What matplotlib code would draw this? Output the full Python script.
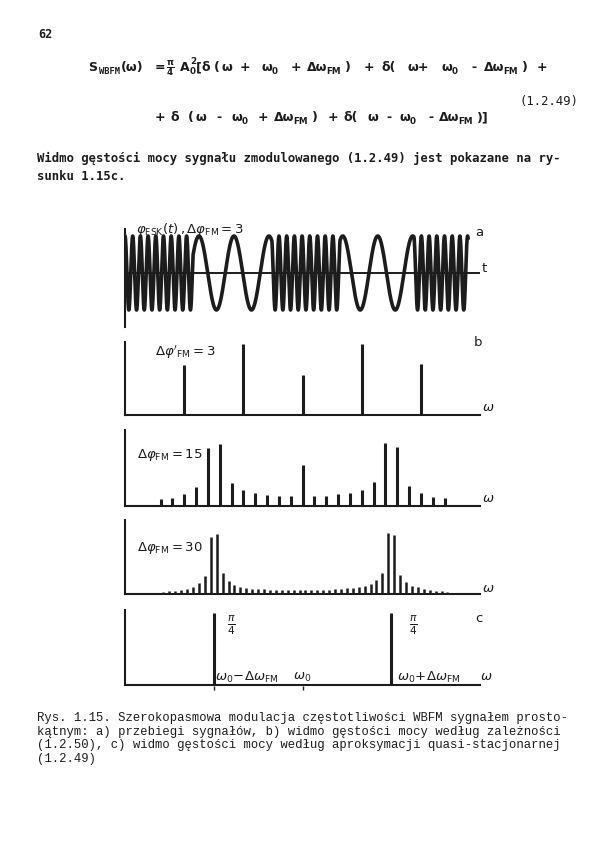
"""Page 62, Rys. 1.15: WBFM with a rectangular modulating signal."""

import matplotlib as mpl
import matplotlib.pyplot as plt
import numpy as np

PAGE_W, PAGE_H = 600, 868
DPI = 100
INK = "#1c1c1c"

# (a) FSK waveform: segment edges along t and the period inside each segment
FSK_EDGES = [0, 68, 147, 215, 289, 343]
FSK_PERIODS = [7.7, 35.0, 7.7, 35.0, 7.7]

# spectral lines: harmonic number n of the modulating frequency, x = n / (dphi/2)
B_DPHI = 3
B_HARM = [-2, -1, 0, 1, 2]
B_AMP = [50, 71, 40, 71, 51]

C_DPHI = 15
C_HARM = list(range(-12, 13))
C_AMP = [6.7, 8.3, 11.7, 19, 58.3, 62.3, 23.3, 15.7, 13, 11, 10, 9.7, 41,
         9.7, 10.3, 11.7, 13, 16.3, 24, 63.3, 59.3, 20, 12.7, 9, 7.7]

D_DPHI = 30
D_HARM = list(np.arange(-24.5, 25.0, 1.0))
D_AMP = [1.3, 2, 2.7, 3.3, 4, 5, 7, 10.7, 18.3, 57.3, 59.7, 20.7, 12.7, 9, 7,
         6, 5.3, 5, 4.7, 4.3, 4, 4, 4, 4, 4, 3.7, 3.7, 3.7, 4, 4, 4.7, 5, 5.7,
         6.3, 7.3, 8.3, 10.3, 13.7, 21.3, 60.7, 58.7, 19.3, 11.7, 8, 6.7, 5.3,
         4, 3.3, 3, 2.3]

# (c) quasi-stationary approximation: two lines at w0 -/+ dw_FM
E_POS = [-1, 1]
E_AMP = [72, 72]

# equation (1.2.49), piece by piece as typed on the page: (x, text, level)
# level 0 = main line, -1 = subscript, 1 = superscript, -2 = narrow subscript
EQ_LINE1 = [
    (88, "S", 0), (99, "WBFM", -2), (121, "(ω)", 0), (155, "=", 0), (166, r"$\frac{\pi}{4}$", 0),
    (180, "A", 0), (190, "0", -1), (190, "2", 1), (196, "[", 0), (201, "δ", 0), (214, "(", 0),
    (222, "ω", 0), (240, "+", 0), (261, "ω", 0), (272, "0", -1), (291, "+", 0),
    (307, "Δω", 0), (326, "FM", -1), (345, ")", 0), (364, "+", 0), (382, "δ(", 0),
    (407, "ω+", 0), (441, "ω", 0), (452, "0", -1), (471, "-", 0), (484, "Δω", 0),
    (503, "FM", -1), (522, ")", 0), (537, "+", 0),
]
EQ_LINE2 = [
    (155, "+", 0), (171, "δ", 0), (188, "(", 0), (196, "ω", 0), (216, "-", 0), (231, "ω", 0),
    (242, "0", -1), (258, "+", 0), (274, "Δω", 0), (293, "FM", -1), (312, ")", 0), (328, "+", 0),
    (344, "δ(", 0), (367, "ω", 0), (386, "-", 0), (399, "ω", 0), (410, "0", -1), (428, "-", 0),
    (439, "Δω", 0), (458, "FM", -1), (477, ")]", 0),
]

CAPTION = [
    "Rys. 1.15. Szerokopasmowa modulacja częstotliwości WBFM sygnałem prosto-",
    "kątnym: a) przebiegi sygnałów, b) widmo gęstości mocy według zależności",
    "(1.2.50), c) widmo gęstości mocy według aproksymacji quasi-stacjonarnej",
    "(1.2.49)",
]
PARAGRAPH = [
    "Widmo gęstości mocy sygnału zmodulowanego (1.2.49) jest pokazane na ry-",
    "sunku 1.15c.",
]


def _apply_style():
    mpl.rcParams.update(
        {
            "mathtext.fontset": "custom",
            "mathtext.rm": "DejaVu Sans:bold",
            "mathtext.it": "DejaVu Sans:bold",
            "mathtext.bf": "DejaVu Sans:bold",
            "mathtext.sf": "DejaVu Sans:bold",
            "axes.linewidth": 1.5,
        }
    )


def _px_axes(fig, x0, y0, x1, y1):
    return fig.add_axes([x0 / PAGE_W, 1 - y1 / PAGE_H, (x1 - x0) / PAGE_W, (y1 - y0) / PAGE_H])


def _txt(fig, x, y, s, **kw):
    kw.setdefault("va", "center")
    kw.setdefault("color", INK)
    fig.text(x / PAGE_W, 1 - y / PAGE_H, s, **kw)


def _eq_line(fig, pieces, baseline):
    for x, tok, level in pieces:
        if tok.startswith("$"):
            _txt(fig, x, baseline, tok, fontsize=9, va="baseline")
            continue
        y = baseline + {0: 0, -1: 3.5, -2: 3.5, 1: -6.5}[level]
        family = "DejaVu Sans Mono" if level == -2 else "DejaVu Sans"
        _txt(fig, x, y, tok, family=family, fontweight="bold",
             fontsize=9 if level == 0 else 6.3, va="baseline")


def _spectrum_axes(ax, height):
    for side in ["top", "right"]:
        ax.spines[side].set_visible(False)
    for side in ["left", "bottom"]:
        ax.spines[side].set_color(INK)
    ax.set_xlim(-2.0, 2.0)
    ax.set_ylim(0, height)
    ax.set_xticks([])
    ax.set_yticks([])
    ax.patch.set_alpha(0)


def _lines(ax, harm, amp, dphi, lw):
    x = np.asarray(harm, dtype=float) / (dphi / 2)
    ax.vlines(x, 0, amp, color=INK, lw=lw, capstyle="butt")


def build_page():
    _apply_style()
    fig = plt.figure(figsize=(PAGE_W / DPI, PAGE_H / DPI), dpi=DPI, facecolor="white")

    # page text above the figure
    _txt(fig, 38, 35, "62", family="DejaVu Sans Mono", fontweight="bold", fontsize=8.6)
    _eq_line(fig, EQ_LINE1, 71)
    _eq_line(fig, EQ_LINE2, 121)
    _txt(fig, 520, 102, "(1.2.49)", family="DejaVu Sans Mono", fontsize=8.8)
    for i, line in enumerate(PARAGRAPH):
        _txt(fig, 37, 158 + 18 * i, line, family="DejaVu Sans Mono", fontweight="bold", fontsize=8.85)

    # (a) waveform
    ax = _px_axes(fig, 125, 229, 480, 327)
    t = np.linspace(FSK_EDGES[0], FSK_EDGES[-1], 6000)
    seg = np.clip(np.searchsorted(FSK_EDGES, t, side="right") - 1, 0, len(FSK_PERIODS) - 1)
    freq = 1.0 / np.asarray(FSK_PERIODS)[seg]
    phase = np.concatenate([[0], np.cumsum(freq[1:] * np.diff(t))])
    ax.plot(t, np.cos(2 * np.pi * phase), color=INK, lw=2.6)
    ax.axhline(0, color=INK, lw=1.4)
    ax.set_xlim(0, 355)
    ax.set_ylim(-54 / 37, 44 / 37)
    for side in ["top", "right", "bottom"]:
        ax.spines[side].set_visible(False)
    ax.spines["left"].set_color(INK)
    ax.set_xticks([])
    ax.set_yticks([])
    ax.patch.set_alpha(0)

    hand = dict(math_fontfamily="dejavusans", fontsize=9.5)
    _txt(fig, 136, 230, r"$\varphi_{\mathrm{FSK}}(t)\,,\Delta\varphi_{\mathrm{FM}}=3$", **hand)
    _txt(fig, 475, 232, "a", fontsize=9.5)
    _txt(fig, 482, 268, "t", fontsize=9.5)

    # (b) dphi = 3
    ax = _px_axes(fig, 125, 342, 480, 415)
    _spectrum_axes(ax, 73)
    _lines(ax, B_HARM, B_AMP, B_DPHI, 2.2)
    _txt(fig, 155, 352, r"$\Delta\varphi'_{\mathrm{FM}}=3$", **hand)
    _txt(fig, 474, 342, "b", fontsize=9.5)
    _txt(fig, 482, 408, r"$\omega$", **hand)

    # dphi = 15
    ax = _px_axes(fig, 125, 430, 480, 506)
    _spectrum_axes(ax, 76)
    _lines(ax, C_HARM, C_AMP, C_DPHI, 2.2)
    _txt(fig, 137, 455, r"$\Delta\varphi_{\mathrm{FM}}=15$", **hand)
    _txt(fig, 482, 498, r"$\omega$", **hand)

    # dphi = 30
    ax = _px_axes(fig, 125, 520, 480, 594)
    _spectrum_axes(ax, 74)
    _lines(ax, D_HARM, D_AMP, D_DPHI, 1.8)
    _txt(fig, 137, 548, r"$\Delta\varphi_{\mathrm{FM}}=30$", **hand)
    _txt(fig, 482, 588, r"$\omega$", **hand)

    # (c) quasi-stationary
    ax = _px_axes(fig, 125, 610, 480, 685)
    _spectrum_axes(ax, 75)
    ax.vlines(E_POS, 0, E_AMP, color=INK, lw=2.2)
    ax.plot([E_POS[0], 0], [-3, -3], ls="none", marker="|", ms=3, color=INK, clip_on=False)
    _txt(fig, 227, 625, r"$\frac{\pi}{4}$", math_fontfamily="dejavusans", fontsize=11)
    _txt(fig, 409, 625, r"$\frac{\pi}{4}$", math_fontfamily="dejavusans", fontsize=11)
    _txt(fig, 475, 618, "c", fontsize=9.5)
    _txt(fig, 215, 677, r"$\omega_0\!-\!\Delta\omega_{\mathrm{FM}}$", **hand)
    _txt(fig, 293, 677, r"$\omega_0$", **hand)
    _txt(fig, 397, 677, r"$\omega_0\!+\!\Delta\omega_{\mathrm{FM}}$", **hand)
    _txt(fig, 480, 677, r"$\omega$", **hand)

    # caption
    for i, line in enumerate(CAPTION):
        _txt(fig, 37, 718 + 13.6 * i, line, family="Liberation Mono", fontsize=8.8)

    fig.savefig("out.png", dpi=DPI, facecolor="white")
    plt.close(fig)


def main():
    build_page()


if __name__ == "__main__":
    main()
